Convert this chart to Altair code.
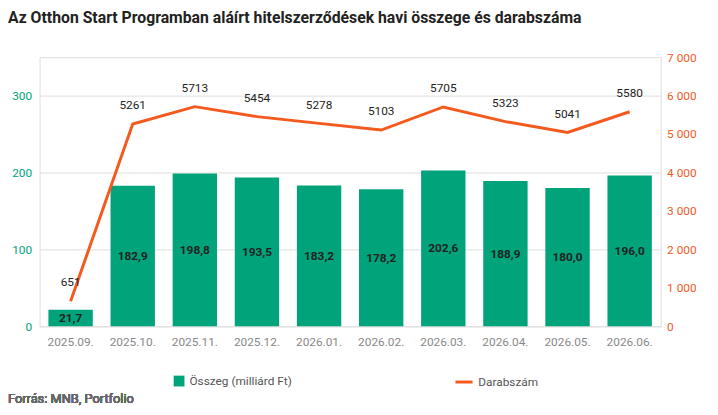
import pandas as pd
import altair as alt

months = ["2025.09.", "2025.10.", "2025.11.", "2025.12.", "2026.01.",
          "2026.02.", "2026.03.", "2026.04.", "2026.05.", "2026.06."]
amount = [21.7, 182.9, 198.8, 193.5, 183.2, 178.2, 202.6, 188.9, 180.0, 196.0]
count = [651, 5261, 5713, 5454, 5278, 5103, 5705, 5323, 5041, 5580]

GREEN = "#00a37a"
ORANGE = "#f4591d"
FONT = "Roboto"

df = pd.DataFrame({"month": months, "amount": amount, "count": count})
df["amount_lbl"] = [f"{v:.1f}".replace(".", ",") for v in amount]
df["half"] = df["amount"] / 2
df["s1"] = "Összeg (milliárd Ft)"
df["s2"] = "Darabszám"

x = alt.X("month:N", title=None, sort=months,
          axis=alt.Axis(labelAngle=0, labelColor="#888", labelFontSize=12,
                        domain=False, ticks=False, labelPadding=10))
base = alt.Chart(df).encode(x=x)

yscale = alt.Scale(domain=[0, 350])
bars = base.mark_bar(width=45).encode(
    y=alt.Y("amount:Q", title=None, scale=yscale,
            axis=alt.Axis(values=list(range(0, 351, 50)), labelColor=GREEN,
                          labelFontSize=12, domain=False, ticks=False,
                          gridColor="#dddddd", labelPadding=8)),
    color=alt.Color("s1:N", scale=alt.Scale(range=[GREEN]),
                    legend=alt.Legend(title=None, orient="none", legendX=135,
                                      legendY=322, symbolType="square",
                                      symbolSize=120, labelFontSize=12,
                                      labelColor="#555")),
)
bar_text = base.mark_text(fontWeight="bold", fontSize=12, color="#222",
                          baseline="middle").encode(
    y=alt.Y("half:Q", scale=yscale), text="amount_lbl:N")

raxis = alt.Axis(orient="right", values=list(range(0, 7001, 1000)),
                 labelColor=ORANGE, labelFontSize=12, domain=False,
                 ticks=False, grid=False, labelPadding=6,
                 labelExpr="replace(format(datum.value, ',d'), ',', ' ')")
rscale = alt.Scale(domain=[0, 7000])
line = base.mark_line(strokeWidth=3).encode(
    y=alt.Y("count:Q", title=None, scale=rscale, axis=raxis),
    stroke=alt.Stroke("s2:N", scale=alt.Scale(range=[ORANGE]),
                      legend=alt.Legend(title=None, orient="none", legendX=420,
                                        legendY=319, symbolType="stroke",
                                        symbolStrokeWidth=3, symbolSize=300,
                                        labelFontSize=12, labelColor="#555")),
)
line_text = base.mark_text(dy=-19, fontSize=12, color="#222").encode(
    y=alt.Y("count:Q", title=None, scale=rscale, axis=raxis),
    text="count:Q")

source = alt.Chart(df).mark_text(align="left", fontSize=13, color="#666",
                                 fontWeight="normal", font=FONT).encode(
    x=alt.value(-32), y=alt.value(347), text=alt.datum("Forrás: MNB, Portfolio"))

left = alt.layer(bars, bar_text)
right = alt.layer(line, line_text)
chart = alt.layer(left, right, source).resolve_scale(
    y="independent", color="independent", stroke="independent"
).properties(
    width=630, height=273,
    autosize=alt.AutoSizeParams(type="none"),
    padding={"left": 32, "top": 47, "right": 50, "bottom": 80},
    title=alt.Title("Az Otthon Start Programban aláírt hitelszerződések havi összege és darabszáma",
                    anchor="start", offset=26, fontSize=16,
                    fontWeight="bold", color="#222", font=FONT),
).configure_view(stroke=None).configure(font=FONT).configure_axis(labelFont=FONT)

chart.save("out.html", embed_options={"renderer": "svg", "actions": False})
